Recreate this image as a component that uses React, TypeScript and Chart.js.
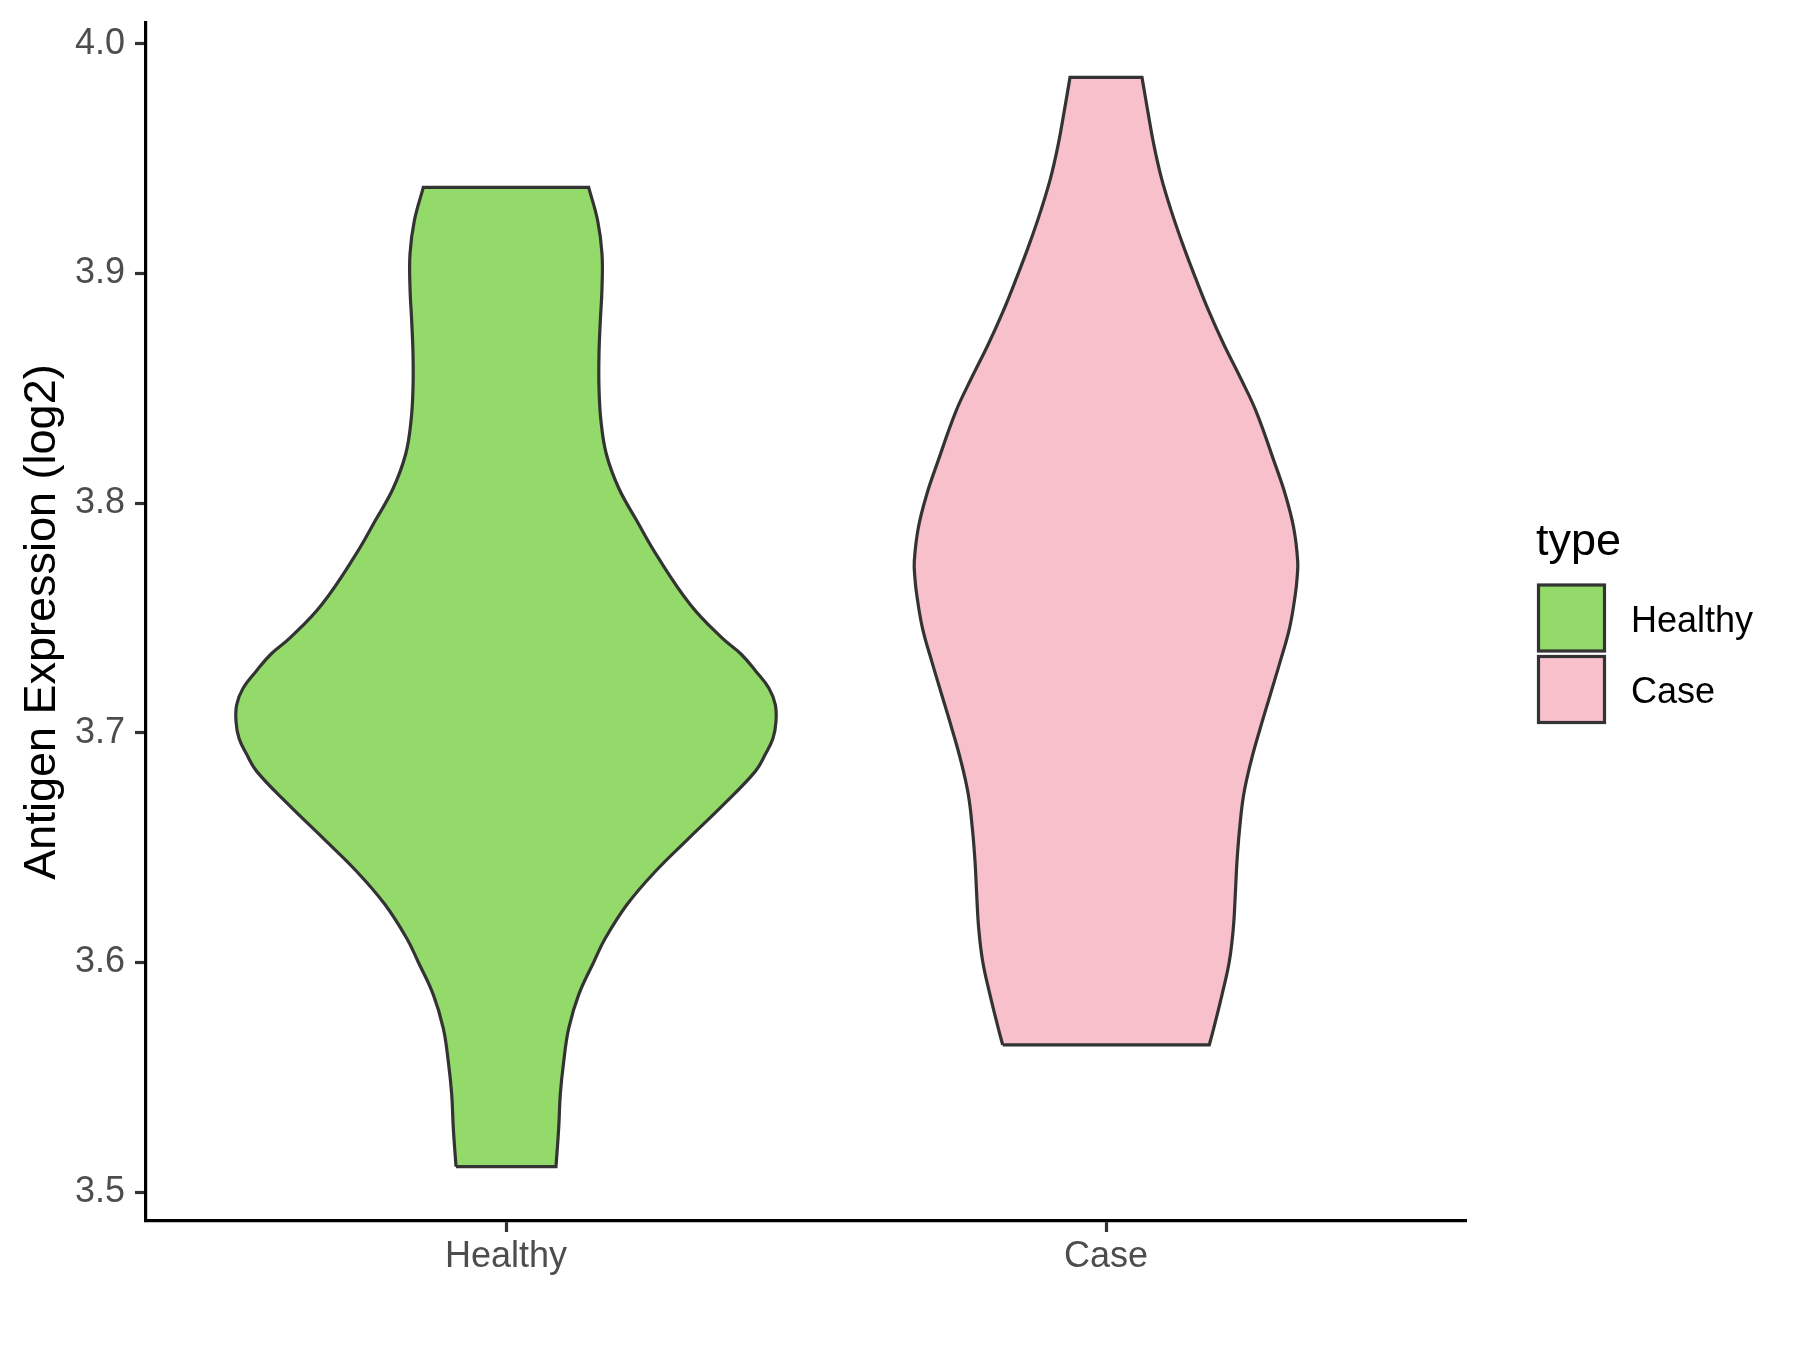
import React, { useEffect, useRef } from 'react';
import { Chart, registerables } from 'chart.js';

Chart.register(...registerables);

const categories = ['Healthy', 'Case'];
const categoryPositions = [1, 2];
const fillColors = ['#94DA6A', '#F7C0CB'];
const outlineColor = '#333333';
const yTickValues = [3.5, 3.6, 3.7, 3.8, 3.9, 4.0];
const yTitle = 'Antigen Expression (log2)';
const legendTitle = 'type';

// Healthy violin outline: expression values (bottom to top) and half-widths (category units)
const healthyValues = [
  3.5111, 3.5277, 3.5425, 3.5569, 3.5713, 3.586, 3.6004, 3.6105, 3.6252, 3.6396,
  3.654, 3.6688, 3.6832, 3.6905, 3.6976, 3.705, 3.7123, 3.7195, 3.7267, 3.7342,
  3.7413, 3.7559, 3.7778, 3.7922, 3.8066, 3.8214, 3.8358, 3.8502, 3.865, 3.8794,
  3.8938, 3.9086, 3.923, 3.9375,
];
const healthyHalfWidths = [
  0.0833, 0.0878, 0.0905, 0.0962, 0.1045, 0.1212, 0.1467, 0.1655, 0.2017, 0.2488,
  0.3045, 0.3628, 0.4155, 0.432, 0.445, 0.45, 0.4488, 0.438, 0.4167, 0.392,
  0.36, 0.307, 0.25, 0.2183, 0.1878, 0.1672, 0.1583, 0.155, 0.155, 0.1572,
  0.16, 0.16, 0.1528, 0.1378,
];

// Case violin outline
const caseValues = [
  3.5641, 3.5713, 3.5859, 3.6004, 3.6149, 3.6295, 3.644, 3.6585, 3.6731, 3.6876,
  3.7021, 3.7166, 3.7312, 3.7457, 3.7602, 3.7675, 3.7748, 3.7893, 3.8038, 3.8183,
  3.8401, 3.8547, 3.8692, 3.8837, 3.8983, 3.9128, 3.9273, 3.9418, 3.9564, 3.9709, 3.9854,
];
const caseHalfWidths = [
  0.1722, 0.1795, 0.1933, 0.2055, 0.2122, 0.2155, 0.2183, 0.2228, 0.2295, 0.2417,
  0.2572, 0.2738, 0.2905, 0.306, 0.3155, 0.3185, 0.3195, 0.3128, 0.2988, 0.28,
  0.25, 0.2238, 0.1962, 0.1712, 0.1488, 0.1278, 0.1088, 0.0922, 0.0795, 0.0695, 0.06,
];

const FONT = '"Liberation Sans", Arial, Helvetica, sans-serif';

// Builds the closed outline; corner points are repeated so the flat ends stay straight.
function violinPoints(center: number, values: number[], widths: number[]) {
  const n = values.length;
  const left = values.map((v, i) => ({ x: center - widths[i], y: v }));
  const right = values.map((v, i) => ({ x: center + widths[i], y: v }));
  const pts: { x: number; y: number }[] = [];
  pts.push(left[0], left[0]);
  for (let i = 1; i < n - 1; i++) pts.push(left[i]);
  pts.push(left[n - 1], left[n - 1], right[n - 1], right[n - 1]);
  for (let i = n - 2; i > 0; i--) pts.push(right[i]);
  pts.push(right[0], right[0], left[0], left[0]);
  return pts;
}

const legendPlugin = {
  id: 'ggLegend',
  afterDraw(chart: any) {
    const ctx = chart.ctx as CanvasRenderingContext2D;
    ctx.save();
    ctx.fillStyle = '#000000';
    ctx.font = `45px ${FONT}`;
    ctx.textAlign = 'left';
    ctx.textBaseline = 'alphabetic';
    ctx.fillText(legendTitle, 1536, 555);
    categories.forEach((label, i) => {
      const top = 585 + i * 71.5;
      ctx.fillStyle = fillColors[i];
      ctx.fillRect(1538.5, top, 66, 66);
      ctx.lineWidth = 3.2;
      ctx.strokeStyle = outlineColor;
      ctx.strokeRect(1538.5, top, 66, 66);
      ctx.fillStyle = '#000000';
      ctx.font = `36px ${FONT}`;
      ctx.textBaseline = 'middle';
      ctx.fillText(label, 1631, top + 37);
    });
    ctx.restore();
  },
};

export default function App() {
  const canvasRef = useRef<HTMLCanvasElement | null>(null);

  useEffect(() => {
    if (!canvasRef.current) return;
    const allValues = [...healthyValues, ...caseValues];
    const vMin = Math.min(...allValues);
    const vMax = Math.max(...allValues);
    const pad = (vMax - vMin) * 0.05;

    const series = [
      { values: healthyValues, widths: healthyHalfWidths },
      { values: caseValues, widths: caseHalfWidths },
    ];

    const chart = new Chart(canvasRef.current, {
      type: 'line',
      data: {
        datasets: series.map((s, i) => ({
          label: categories[i],
          data: violinPoints(categoryPositions[i], s.values, s.widths),
          borderColor: outlineColor,
          backgroundColor: fillColors[i],
          borderWidth: 3.2,
          borderJoinStyle: 'miter',
          fill: 'shape',
          tension: 0.4,
          pointRadius: 0,
          pointHoverRadius: 0,
        })),
      },
      options: {
        responsive: false,
        animation: false,
        devicePixelRatio: 1,
        layout: { padding: { left: 0, top: 23, right: 334, bottom: 0 } },
        plugins: {
          legend: { display: false },
          tooltip: { enabled: false },
        },
        scales: {
          x: {
            type: 'linear',
            min: 0.4,
            max: 2.6,
            afterBuildTicks: (scale: any) => {
              scale.ticks = categoryPositions.map((v) => ({ value: v }));
            },
            afterFit: (scale: any) => {
              scale.height = 129;
              scale.paddingLeft = 0;
              scale.paddingRight = 0;
            },
            grid: {
              display: true,
              drawOnChartArea: false,
              drawTicks: true,
              tickLength: 11,
              tickColor: '#333333',
              tickWidth: 3.2,
            },
            border: { display: true, color: '#000000', width: 3.2 },
            ticks: {
              padding: 3,
              color: '#4D4D4D',
              font: { family: FONT, size: 36 },
              maxRotation: 0,
              autoSkip: false,
              callback: (value: any) => {
                const idx = categoryPositions.indexOf(Number(value));
                return idx >= 0 ? categories[idx] : '';
              },
            },
          },
          y: {
            type: 'linear',
            min: vMin - pad,
            max: vMax + pad,
            afterBuildTicks: (scale: any) => {
              scale.ticks = yTickValues.map((v) => ({ value: v }));
            },
            afterFit: (scale: any) => {
              scale.width = 146;
              scale.paddingTop = 0;
              scale.paddingBottom = 0;
            },
            grid: {
              display: true,
              drawOnChartArea: false,
              drawTicks: true,
              tickLength: 11,
              tickColor: '#333333',
              tickWidth: 3.2,
            },
            border: { display: true, color: '#000000', width: 3.2 },
            ticks: {
              padding: 10,
              color: '#4D4D4D',
              font: { family: FONT, size: 36 },
              callback: (value: any) => Number(value).toFixed(1),
            },
            title: {
              display: true,
              text: yTitle,
              color: '#000000',
              font: { family: FONT, size: 45 },
              padding: { top: 16, bottom: 0 },
            },
          },
        },
      } as any,
      plugins: [legendPlugin],
    });

    return () => chart.destroy();
  }, []);

  return (
    <div style={{ position: 'absolute', left: 0, top: 0, width: 1800, height: 1350, background: '#ffffff' }}>
      <canvas ref={canvasRef} width={1800} height={1350} style={{ display: 'block' }} />
    </div>
  );
}
